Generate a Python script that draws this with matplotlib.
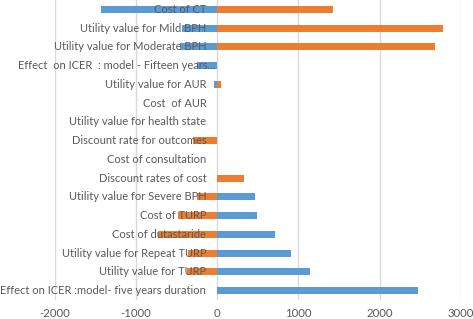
import numpy as np
import matplotlib.pyplot as plt
import matplotlib.transforms as mtransforms

# parameters, top to bottom
labels = [
    "Cost of CT",
    "Utility value for Mild BPH",
    "Utility value for Moderate BPH",
    "Effect  on ICER  : model - Fifteen years...",
    "Utility value for AUR",
    "Cost  of AUR",
    "Utility value for health state",
    "Discount rate for outcomes",
    "Cost of consultation",
    "Discount rates of cost",
    "Utility value for Severe BPH",
    "Cost of TURP",
    "Cost of dutastaride",
    "Utility value for Repeat TURP",
    "Utility value for TURP",
    "Effect on ICER :model- five years duration",
]
blue_vals = [-1430, -440, -460, -250, -40, 0, 0, 0, 0, 0, 465, 493, 715, 905, 1147, 2475]
orange_vals = [1430, 2787, 2688, 0, 50, 0, 0, -303, 0, 333, -254, -488, -727, -358, -377, 0]
xticks = [-2000, -1000, 0, 1000, 2000, 3000]

plt.rcParams['font.family'] = ['Lato', 'DejaVu Sans']

fig = plt.figure(figsize=(4.73, 3.19), dpi=100)
ax = fig.add_axes([55 / 473, 19 / 319, (460.7 - 55) / 473, 300 / 319])

y = np.arange(len(labels))
ax.barh(y, blue_vals, height=0.38, color="#5B9BD5", zorder=2)
ax.barh(y, orange_vals, height=0.38, color="#ED7D31", zorder=2)

ax.set_xlim(-2000, 3000)
ax.set_ylim(len(labels) - 0.5, -0.5)
ax.set_xticks(xticks)
ax.set_xticklabels([str(t) for t in xticks])
ax.set_yticks([])
ax.tick_params(axis='x', length=0, pad=6, labelsize=8.2, labelcolor="#595959")
ax.grid(axis='x', color="#D9D9D9", linewidth=1, zorder=0)
for s in ax.spines.values():
    s.set_visible(False)

# labels sit next to the zero line, over the bars
for yi, lab in zip(y, labels):
    dx = -2 if lab.endswith("...") else -11  # truncated label runs closer to the axis
    offset = mtransforms.offset_copy(ax.transData, fig=fig, x=dx, y=0, units='dots')
    ax.text(0, yi, lab, ha='right', va='center', fontsize=8.0, color="#595959",
            transform=offset, zorder=3, clip_on=False)

plt.savefig("out.png", dpi=100)
